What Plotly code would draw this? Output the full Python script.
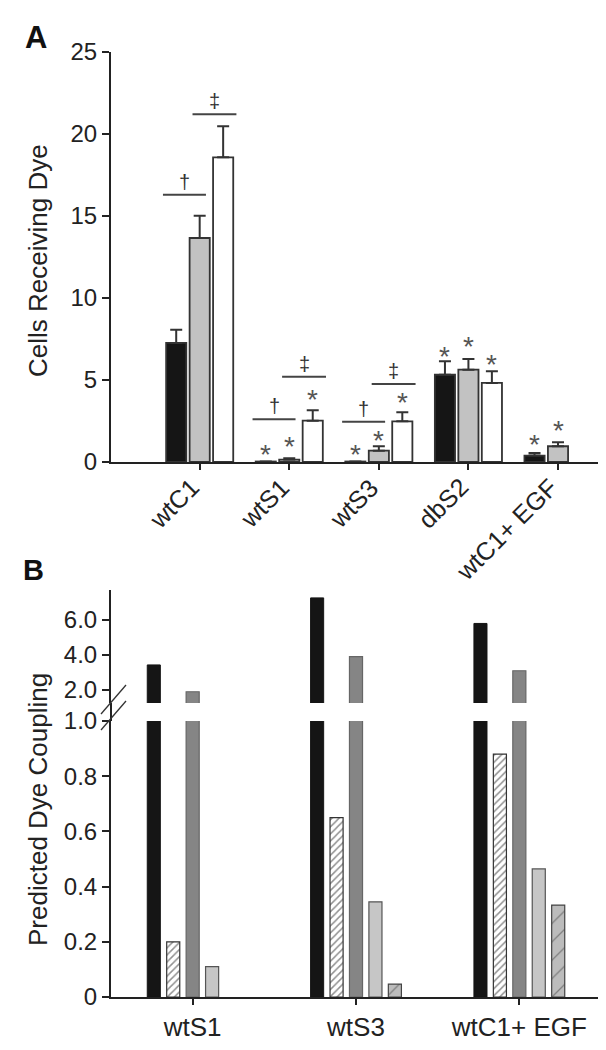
import plotly.graph_objects as go

W, H = 606, 1050

# ---------------- Panel A data ----------------
cats_a = ["wtC1", "wtS1", "wtS3", "dbS2", "wtC1+ EGF"]
a_black = [7.26, 0.03, 0.03, 5.32, 0.39]
a_black_err = [0.81, 0.0, 0.0, 0.82, 0.16]
a_gray = [13.66, 0.15, 0.69, 5.63, 0.96]
a_gray_err = [1.36, 0.08, 0.27, 0.65, 0.24]
a_white = [18.58, 2.52, 2.48, 4.82, None]
a_white_err = [1.89, 0.63, 0.55, 0.71, None]
# asterisk heights (None = no asterisk)
a_star_black = [None, 0.85, 0.8, 6.77, 1.46]
a_star_gray = [None, 1.3, 1.65, 7.38, 2.26]
a_star_white = [None, 4.2, 4.0, 6.34, None]
# significance bars (category index, height)
dagger_groups = [0, 1, 2]
dagger_y = [16.3, 2.6, 2.45]
ddagger_y = [21.2, 5.2, 4.75]

# ---------------- Panel B data ----------------
cats_b = ["wtS1", "wtS3", "wtC1+ EGF"]
b_black = [3.43, 7.26, 5.8]
b_hatch_white = [0.20, 0.65, 0.88]
b_dark = [1.9, 3.9, 3.1]
b_light = [0.11, 0.345, 0.464]
b_hatch_gray = [None, 0.047, 0.333]

FONT = "Liberation Sans, Arial, sans-serif"
INK = "#222222"

fig = go.Figure()

# ---- Panel A bars ----
off_a = 0.262
wa = 0.225
xa = list(range(len(cats_a)))
series_a = [
    (a_black, a_black_err, "#151515", -off_a),
    (a_gray, a_gray_err, "#c2c2c2", 0.0),
    (a_white, a_white_err, "#ffffff", off_a),
]
for vals, errs, col, off in series_a:
    xs = [i + off for i, v in zip(xa, vals) if v is not None]
    ys = [v for v in vals if v is not None]
    es = [e for e, v in zip(errs, vals) if v is not None]
    fig.add_trace(go.Bar(
        x=xs, y=ys, width=wa, xaxis="x", yaxis="y",
        marker=dict(color=col, line=dict(color="#333333", width=1.8)),
        error_y=dict(type="data", array=es, arrayminus=[0] * len(es), symmetric=False,
                     color="#333333", thickness=2, width=6),
        showlegend=False, hoverinfo="skip"))

# ---- Layout geometry (pixels -> paper) ----
def px_x(p):
    return p / W

def px_y(p):
    return 1 - p / H

xl, xr = 103, 593
a_top, a_bot = 44, 454
b_top, b_brk_hi, b_brk_lo, b_bot = 582, 695, 713, 989

# asterisks
annotations = []
for stars, off in [(a_star_black, -off_a), (a_star_gray, 0.0), (a_star_white, off_a)]:
    for i, s in enumerate(stars):
        if s is None:
            continue
        annotations.append(dict(x=i + off, y=s, xref="x", yref="y", text="*", showarrow=False,
                                font=dict(family=FONT, size=28, color="#555555"), yshift=-6))

# category labels of panel A (rotated)
for i, lab in enumerate(cats_a):
    annotations.append(dict(x=i, y=px_y(a_bot + 8), xref="x", yref="paper", text=lab,
                            textangle=-45, xanchor="right", yanchor="top", showarrow=False,
                            xshift=8, font=dict(family=FONT, size=25, color=INK)))

shapes = []
for g, yd, ydd in zip(dagger_groups, dagger_y, ddagger_y):
    shapes.append(dict(type="line", xref="x", yref="y", x0=g - 0.41, x1=g + 0.07, y0=yd, y1=yd,
                       line=dict(color="#444444", width=2)))
    shapes.append(dict(type="line", xref="x", yref="y", x0=g - 0.08, x1=g + 0.41, y0=ydd, y1=ydd,
                       line=dict(color="#444444", width=2)))
    annotations.append(dict(x=g - 0.17, y=yd, xref="x", yref="y", text="†", showarrow=False,
                            font=dict(family=FONT, size=20, color="#333333"), yshift=13))
    annotations.append(dict(x=g + 0.165, y=ydd, xref="x", yref="y", text="‡", showarrow=False,
                            font=dict(family=FONT, size=20, color="#333333"), yshift=13))

# ---- Panel B bars ----
off_b = 0.119
wb = 0.08
xb = list(range(len(cats_b)))
series_b = [
    (b_black, -2, dict(color="#151515", line=dict(color="#151515", width=1))),
    (b_hatch_white, -1, dict(color="#ffffff", line=dict(color="#333333", width=1.2),
                             pattern=dict(shape="/", fgcolor="#222222", bgcolor="#ffffff",
                                          size=5, solidity=0.3))),
    (b_dark, 0, dict(color="#858585", line=dict(color="#666666", width=1.2))),
    (b_light, 1, dict(color="#c6c6c6", line=dict(color="#555555", width=1.2))),
    (b_hatch_gray, 2, dict(color="#bcbcbc", line=dict(color="#444444", width=1.2),
                           pattern=dict(shape="/", fgcolor="#444444", bgcolor="#bcbcbc",
                                        size=13, solidity=0.1))),
]
for vals, k, mk in series_b:
    xs = [i + k * off_b for i, v in zip(xb, vals) if v is not None]
    ys = [v for v in vals if v is not None]
    for ya in ["y2", "y3"]:
        fig.add_trace(go.Bar(x=xs, y=ys, width=wb, xaxis="x2", yaxis=ya, marker=mk,
                             showlegend=False, hoverinfo="skip"))

def axis_common(size=24):
    return dict(showline=True, linecolor=INK, linewidth=2, ticks="outside", tickcolor=INK,
                tickwidth=2, showgrid=False, zeroline=False,
                tickfont=dict(family=FONT, size=size, color=INK), automargin=False)

fig.update_layout(
    width=W, height=H, margin=dict(l=0, r=0, t=0, b=0),
    paper_bgcolor="white", plot_bgcolor="rgba(0,0,0,0)",
    barmode="overlay",
    xaxis=dict(domain=[px_x(xl), px_x(xr)], range=[-0.99, 4.48], anchor="y",
               tickvals=xa, showticklabels=False, ticklen=6, **axis_common(24)),
    yaxis=dict(domain=[px_y(a_bot), px_y(a_top)], range=[0, 25], anchor="x",
               tickvals=[0, 5, 10, 15, 20, 25], ticklen=7, **axis_common(24)),
    xaxis2=dict(domain=[px_x(xl), px_x(xr)], range=[-0.5, 2.5], anchor="y2",
                tickvals=xb, ticktext=cats_b, ticklen=6, **axis_common(26)),
    yaxis2=dict(domain=[px_y(b_bot), px_y(b_brk_lo)], range=[0, 1.0], anchor="x2",
                tickvals=[0, 0.2, 0.4, 0.6, 0.8, 1.0],
                ticktext=["0", "0.2", "0.4", "0.6", "0.8", "1.0"], ticklen=7, **axis_common(24)),
    yaxis3=dict(domain=[px_y(b_brk_hi), px_y(b_top)], range=[1.257, 7.71], anchor="x2",
                tickvals=[2, 4, 6], ticktext=["2.0", "4.0", "6.0"], ticklen=7, **axis_common(24)),
)

# continuous axis line through the break, and break marks
shapes.append(dict(type="line", xref="paper", yref="paper", x0=px_x(xl), x1=px_x(xl),
                   y0=px_y(b_brk_lo), y1=px_y(b_brk_hi), line=dict(color=INK, width=2)))
for dy in (0, -16):
    shapes.append(dict(type="line", xref="paper", yref="paper",
                       x0=px_x(xl - 10), y0=px_y(722 + dy), x1=px_x(xl + 15), y1=px_y(693 + dy),
                       line=dict(color="#333333", width=1.3)))

# titles and panel letters
annotations += [
    dict(text="Cells Receiving Dye", textangle=-90, x=px_x(30), y=px_y(253), xref="paper",
         yref="paper", xanchor="center", yanchor="middle", showarrow=False,
         font=dict(family=FONT, size=26, color=INK)),
    dict(text="Predicted Dye Coupling", textangle=-90, x=px_x(30), y=px_y(802), xref="paper",
         yref="paper", xanchor="center", yanchor="middle", showarrow=False,
         font=dict(family=FONT, size=26, color=INK)),
    dict(text="<b>A</b>", x=px_x(15), y=px_y(29), xref="paper", yref="paper", xanchor="left",
         yanchor="middle", showarrow=False, font=dict(family=FONT, size=31, color="#111111")),
    dict(text="<b>B</b>", x=px_x(13), y=px_y(562), xref="paper", yref="paper", xanchor="left",
         yanchor="middle", showarrow=False, font=dict(family=FONT, size=29, color="#111111")),
]
fig.update_layout(shapes=shapes, annotations=annotations)

fig.write_html("out.html")
